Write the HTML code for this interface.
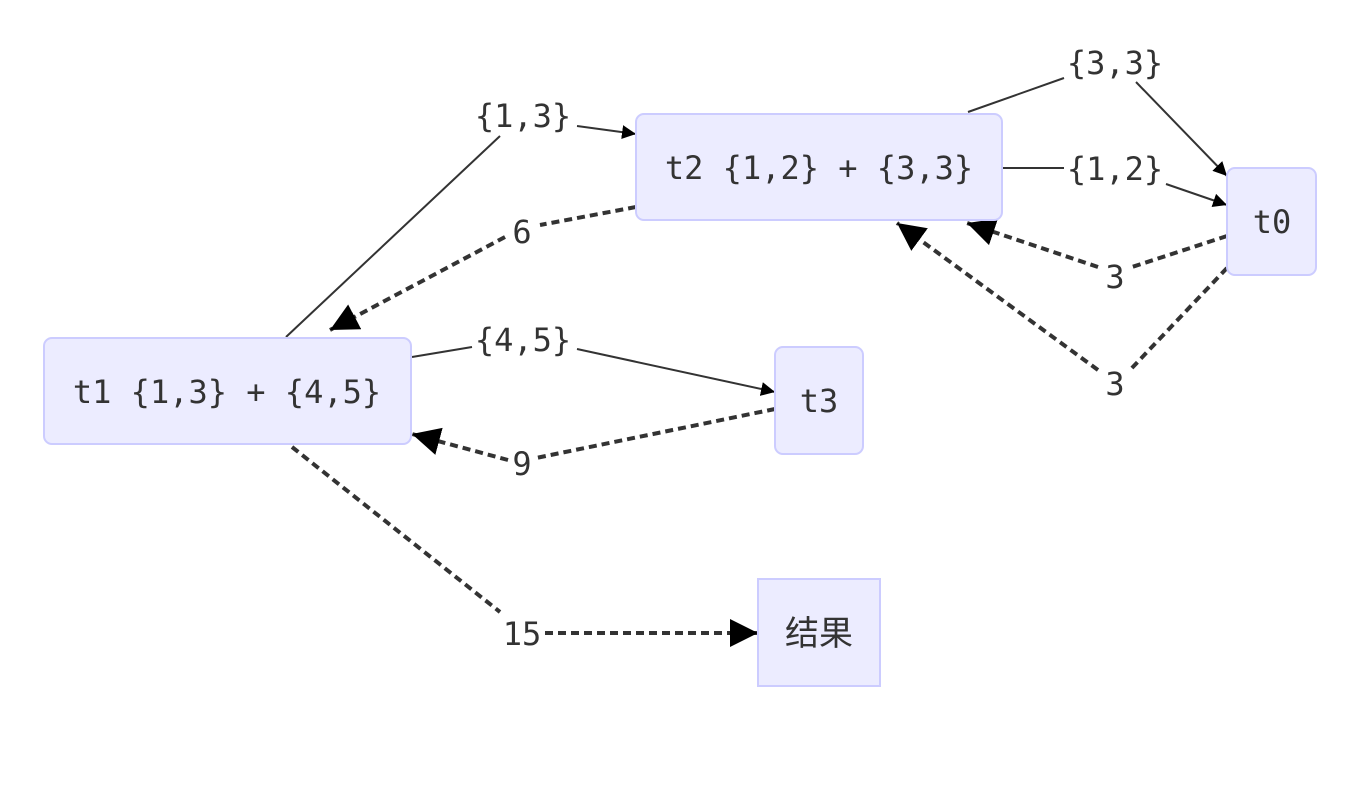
<!DOCTYPE html>
<html><head><meta charset="utf-8"><style>
html,body{margin:0;padding:0;background:#fff;}
svg{display:block}
text{font-family:"DejaVu Sans Mono","Liberation Mono","Noto Sans CJK SC",monospace;font-size:32px;fill:#333;}
</style></head><body>
<svg width="1358" height="806" viewBox="0 0 1358 806" xmlns="http://www.w3.org/2000/svg">
<defs>
<marker id="a" viewBox="0 0 10 10" refX="10" refY="5" markerWidth="14" markerHeight="14" markerUnits="userSpaceOnUse" orient="auto"><path d="M0,0L10,5L0,10z" fill="#000"/></marker>
<marker id="b" viewBox="0 0 10 10" refX="10" refY="5" markerWidth="28" markerHeight="28" markerUnits="userSpaceOnUse" orient="auto"><path d="M0,0L10,5L0,10z" fill="#000"/></marker>
</defs>
<g fill="none" stroke="#333" stroke-width="2">
<path d="M286,337 L500,136"/>
<path d="M577,126 L636,134" marker-end="url(#a)"/>
<path d="M968,112 L1064,78"/>
<path d="M1136,82 L1227,176" marker-end="url(#a)"/>
<path d="M1003,168 L1064,168"/>
<path d="M1166,184 L1227,205" marker-end="url(#a)"/>
<path d="M412,357 L472,347"/>
<path d="M577,349 L775,392" marker-end="url(#a)"/>
</g>
<g fill="none" stroke="#333" stroke-width="4" stroke-dasharray="8 5">
<path d="M636,207 L540,225"/>
<path d="M505,237 L330,330" marker-end="url(#b)"/>
<path d="M1227,236 L1132,267"/>
<path d="M1098,267 L967,223" marker-end="url(#b)"/>
<path d="M1227,268 L1130,370"/>
<path d="M1098,370 L897,223" marker-end="url(#b)"/>
<path d="M775,409 L536,458"/>
<path d="M508,460 L412,434" marker-end="url(#b)"/>
<path d="M292,447 L500,612"/>
<path d="M545,633 L758,633" marker-end="url(#b)"/>
</g>
<g fill="#ececff" stroke="#ccccff" stroke-width="2">
<rect x="636" y="114" width="366" height="106" rx="8"/>
<rect x="44" y="338" width="367" height="106" rx="8"/>
<rect x="1227" y="168" width="89" height="107" rx="8"/>
<rect x="775" y="347" width="88" height="107" rx="8"/>
<rect x="758" y="579" width="122" height="107"/>
</g>
<g text-anchor="middle">
<text x="819" y="179">t2 {1,2} + {3,3}</text>
<text x="227" y="403">t1 {1,3} + {4,5}</text>
<text x="1272" y="233">t0</text>
<text x="819" y="412">t3</text>
<text x="819" y="645" style="font-family:'Noto Sans CJK SC',sans-serif;font-size:34px">结果</text>
<text x="523" y="127">{1,3}</text>
<text x="1115" y="74">{3,3}</text>
<text x="1115" y="180">{1,2}</text>
<text x="523" y="351">{4,5}</text>
<text x="522" y="243">6</text>
<text x="1115" y="288">3</text>
<text x="1115" y="395">3</text>
<text x="522" y="475">9</text>
<text x="522" y="645">15</text>
</g>
</svg>
</body></html>
